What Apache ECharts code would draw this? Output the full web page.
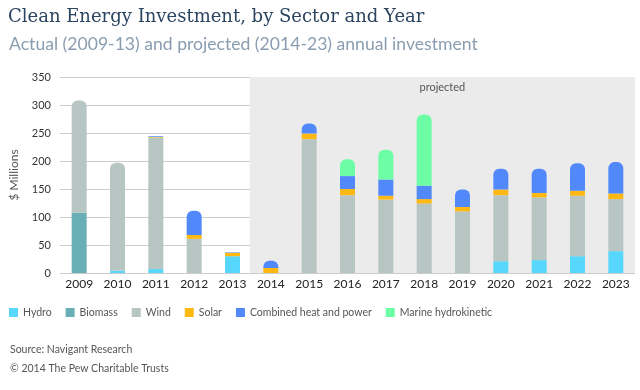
<!DOCTYPE html>
<html>
<head>
<meta charset="utf-8">
<script src="https://cdn.jsdelivr.net/npm/echarts@6/dist/echarts.min.js"></script>
<style>
html,body{margin:0;padding:0;background:#fff;}
#chart{width:640px;height:390px;}
</style>
</head>
<body>
<div id="chart"></div>
<script>
// ---- data ----
const years = ['2009','2010','2011','2012','2013','2014','2015','2016','2017','2018','2019','2020','2021','2022','2023'];
const seriesNames = ['Hydro','Biomass','Wind','Solar','Combined heat and power','Marine hydrokinetic'];
const hydro   = [0,   4,   7,   0,  30,  0,   0,   0,   0,   0,   0,  21,  23,  30,  39];
const biomass = [108, 0,   0,   0,   0,  0,   0,   0,   0,   0,   0,   0,   0,   0,   0];
const wind    = [200, 193, 235, 61,  0,  0, 239, 139, 131, 124, 110, 118, 112, 108,  93];
const solar   = [0,   0,   1,   7,   6,  9,  10,  11,   7,   8,   8,  10,   8,   9,  10];
const chp     = [0,   0,   1,  43,   1, 13,  18,  23,  29,  24,  31,  37,  43,  49,  56];
const marine  = [0,   0,   0,   0,   0,  0,   0,  30,  53, 127,   0,   0,   0,   0,   0];
const yTicks  = [0, 50, 100, 150, 200, 250, 300, 350];
const projectedStart = 4.95; // just before the 2014 band
const colors = ['#57d7fb','#6aaeb6','#b7c5c3','#fdb813','#5188fa','#6cfda5'];

const allValues = [hydro, biomass, wind, solar, chp, marine];

// find top segment of each stack for rounded corners
const topIndex = years.map((_, i) => {
  let t = -1;
  allValues.forEach((arr, s) => { if (arr[i] > 0) t = s; });
  return t;
});

const barSeries = allValues.map((arr, s) => ({
  name: seriesNames[s],
  type: 'bar',
  stack: 'total',
  barWidth: 15,
  z: 3,
  itemStyle: { color: colors[s] },
  data: arr.map((v, i) => topIndex[i] === s
    ? { value: v, itemStyle: { borderRadius: [6, 6, 0, 0] } }
    : v)
}));

const chart = echarts.init(document.getElementById('chart'), null, { renderer: 'canvas' });
chart.setOption({
  animation: false,
  backgroundColor: '#ffffff',
  color: colors,
  title: [
    { text: 'Clean Energy Investment, by Sector and Year', left: 3, top: 3,
      textStyle: { fontFamily: 'DejaVu Serif', fontWeight: 'normal', fontSize: 18, color: '#2b4560' } },
    { text: 'Actual (2009-13) and projected (2014-23) annual investment', left: 4, top: 30,
      textStyle: { fontFamily: 'Lato', fontWeight: 'normal', fontSize: 17.6, color: '#8a9db0' } },
    { text: 'Source: Navigant Research', left: 5, top: 339,
      textStyle: { fontFamily: 'Lato', fontWeight: 'normal', fontSize: 10.5, color: '#555' } },
    { text: '\u00A9 2014 The Pew Charitable Trusts', left: 5, top: 358,
      textStyle: { fontFamily: 'Lato', fontWeight: 'normal', fontSize: 10.5, color: '#555' } }
  ],
  legend: {
    data: seriesNames,
    left: 4, top: 302,
    icon: 'rect', itemWidth: 9, itemHeight: 9, itemGap: 14,
    selectedMode: false,
    textStyle: { fontFamily: 'Lato', fontSize: 10.5, color: '#555' }
  },
  grid: { left: 55, right: 5, top: 77, bottom: 117 },
  xAxis: [
    { type: 'category', data: years, z: 1,
      axisTick: { show: false }, axisLine: { show: false },
      axisLabel: { fontFamily: 'Lato', fontSize: 12, color: '#222', margin: 5 } },
    { type: 'value', min: 0, max: years.length, show: false }
  ],
  yAxis: {
    type: 'value', min: yTicks[0], max: yTicks[yTicks.length - 1], interval: 50, z: 1,
    name: '$ Millions', nameLocation: 'middle', nameGap: 40,
    nameTextStyle: { fontFamily: 'Lato', fontSize: 12, color: '#555' },
    axisLine: { show: false }, axisTick: { show: false },
    axisLabel: { fontFamily: 'Lato', fontSize: 11, color: '#333', margin: 9 },
    splitLine: { lineStyle: { color: '#cccccc', width: 1 } }
  },
  series: [
    {
      type: 'line', xAxisIndex: 1, data: [[5, 0]], showSymbol: false, silent: true,
      z: 0, lineStyle: { opacity: 0 },
      markArea: {
        silent: true,
        itemStyle: { color: '#ebebeb' },
        label: { show: true, position: 'insideTop', distance: 5, formatter: 'projected',
          fontFamily: 'Lato', fontSize: 11, color: '#555' },
        data: [[{ xAxis: projectedStart, yAxis: yTicks[0] }, { xAxis: years.length, yAxis: yTicks[yTicks.length - 1] }]]
      }
    }
  ].concat(barSeries)
});
</script>
</body>
</html>
